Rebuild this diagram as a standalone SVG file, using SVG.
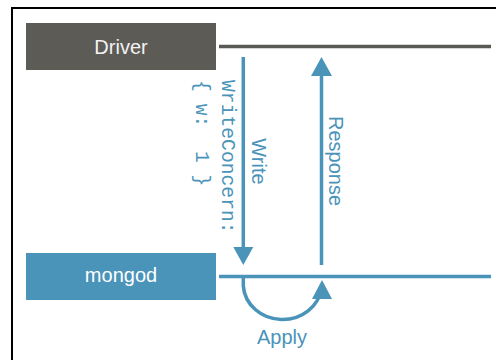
<svg xmlns="http://www.w3.org/2000/svg" width="496" height="360" viewBox="0 0 496 360">
<style>
.lbl{font-family:"Liberation Sans",Arial,sans-serif;font-size:20px;}
.mono{font-family:"Liberation Mono","Courier New",monospace;font-size:19.7px;fill:#4a93b9;white-space:pre;}
.blue{fill:#4a93b9;}
.bl{stroke:#4a93b9;stroke-width:3.5;fill:none;}
</style>
<rect x="12" y="8" width="600" height="500" fill="#fff" stroke="#000" stroke-width="2"/>
<g id="driver">
<rect x="26" y="23" width="190" height="47" fill="#5d5b56"/>
<text class="lbl" x="121" y="54" text-anchor="middle" fill="#f2f2f2">Driver</text>
<line x1="219" y1="46.5" x2="491" y2="46.5" stroke="#5a5853" stroke-width="3.5"/>
</g>
<g id="mongod">
<rect x="26" y="253" width="190" height="47" fill="#4a93b9"/>
<text class="lbl" x="121" y="282" text-anchor="middle" fill="#ffffff">mongod</text>
<line x1="219" y1="276.5" x2="491" y2="276.5" stroke="#4a93b9" stroke-width="3.5"/>
</g>
<g id="connectors">
<line class="bl" x1="243.3" y1="57" x2="243.3" y2="250"/>
<polygon class="blue" points="233.3,247 253.3,247 243.3,265"/>
<line class="bl" x1="321.5" y1="265" x2="321.5" y2="74"/>
<polygon class="blue" points="311,76 332,76 321.5,57"/>
<path class="bl" d="M243.3,278 V286 A39.3,36 0 0 0 321.5,288"/>
<polygon class="blue" points="312,299 332,299 322,280"/>
</g>
<g id="labels">
<text class="lbl blue" transform="translate(252,161.5) rotate(90)" text-anchor="middle">Write</text>
<text class="lbl blue" transform="translate(328.5,161) rotate(90)" text-anchor="middle">Response</text>
<text class="lbl blue" x="282" y="344" text-anchor="middle">Apply</text>
<text class="mono" transform="translate(222,80) rotate(90)">WriteConcern:</text>
<text class="mono" transform="translate(196,80) rotate(90)" xml:space="preserve">{ w:  1 }</text>
</g>
</svg>
